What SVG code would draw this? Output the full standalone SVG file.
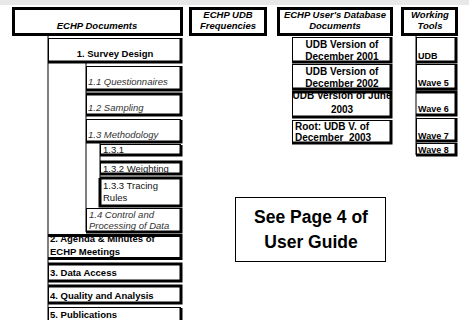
<svg xmlns="http://www.w3.org/2000/svg" width="469" height="320" viewBox="0 0 469 320">
<style>
text{font-family:"Liberation Sans",Arial,sans-serif;fill:#000}
.hd{font-size:9.5px;font-weight:bold;font-style:italic;text-anchor:middle}
.b{font-size:9.5px;font-weight:bold}
.bc{font-size:9.5px;font-weight:bold;text-anchor:middle}
.i{font-size:9.5px;font-style:italic;fill:#333}
.n{font-size:9.5px;fill:#111}
.sm{font-size:9px;font-weight:bold}
.u{font-size:10px;font-weight:bold}
.uc{font-size:10px;font-weight:bold;text-anchor:middle}
.big{font-size:17.5px;font-weight:bold;text-anchor:middle}
.hbox{fill:#fff;stroke:#000;stroke-width:3}
.box{fill:#fff;stroke:#000;stroke-width:1}
.sh{fill:none;stroke:#000;stroke-width:3}
.ln{fill:none;stroke:#000;stroke-width:1}
</style>
<rect x="0" y="0" width="469" height="5" fill="#e8e8e8"/>

<g id="connectors">
<line class="ln" x1="48" y1="35" x2="48" y2="320"/>
<line class="ln" x1="86" y1="62" x2="86" y2="232"/>
<line class="ln" x1="100" y1="142" x2="100" y2="206"/>
<line class="ln" x1="416" y1="35" x2="416" y2="155"/>
</g>

<g id="h-echp-docs"><rect class="hbox" x="13.5" y="8.5" width="168" height="26"/><text class="hd" x="97" y="29">ECHP Documents</text></g>
<g id="h-udb-freq"><rect class="hbox" x="190.5" y="8.5" width="75" height="26"/><text class="hd" x="228" y="18">ECHP UDB</text><text class="hd" x="228" y="29">Frequencies</text></g>
<g id="h-udb-docs"><rect class="hbox" x="278.5" y="8.5" width="113" height="26"/><text class="hd" x="335" y="18">ECHP User's Database</text><text class="hd" x="335" y="29">Documents</text></g>
<g id="h-tools"><rect class="hbox" x="402.5" y="8.5" width="54" height="26"/><text class="hd" x="430" y="18">Working</text><text class="hd" x="430" y="29">Tools</text></g>

<g id="n1"><rect class="box" x="48.5" y="38.5" width="132" height="23"/><path class="sh" d="M181,38V62H48"/><text class="bc" x="115" y="57">1. Survey Design</text></g>
<g id="n11"><rect class="box" x="86.5" y="66.5" width="94" height="23"/><path class="sh" d="M181,66V90H86"/><text class="i" x="88" y="85">1.1  Questionnaires</text></g>
<g id="n12"><rect class="box" x="86.5" y="93.5" width="94" height="21"/><path class="sh" d="M86,94H181V115H86"/><text class="i" x="88" y="111">1.2  Sampling</text></g>
<g id="n13"><rect class="box" x="86.5" y="119.5" width="94" height="22"/><path class="sh" d="M181,120V142H86"/><text class="i" x="88" y="138">1.3  Methodology</text></g>
<g id="n131"><rect class="box" x="100.5" y="144.5" width="80" height="10"/><path class="sh" d="M181,145V155H100"/><text class="n" x="103" y="153">1.3.1</text></g>
<g id="n132"><rect class="box" x="100.5" y="162.5" width="80" height="11"/><path class="sh" d="M100,162H181V174H100"/><text class="n" x="103" y="172">1.3.2  Weighting</text></g>
<g id="n133"><rect class="box" x="100.5" y="178.5" width="80" height="27"/><path class="sh" d="M100,178H181V206H100V178"/><text class="n" x="103" y="189">1.3.3  Tracing</text><text class="n" x="103" y="201">Rules</text></g>
<g id="n14"><rect class="box" x="86.5" y="208.5" width="94" height="23"/><path class="sh" d="M181,208V232H86"/><text class="i" x="89" y="218">1.4  Control and</text><text class="i" x="89" y="229">Processing of Data</text></g>
<g id="n2"><text class="b" x="50" y="241.5">2. Agenda &amp; Minutes of</text><path class="sh" d="M48,235.5H181V258.5H48"/><text class="b" x="50" y="254.5">ECHP Meetings</text></g>
<g id="n3"><rect class="box" x="48.5" y="263.5" width="132" height="17"/><path class="sh" d="M48,264H181V281H48"/><text class="b" x="50" y="276">3. Data Access</text></g>
<g id="n4"><rect class="box" x="48.5" y="285.5" width="132" height="17"/><path class="sh" d="M48,286H181V303H48"/><text class="b" x="50" y="298.5">4. Quality and Analysis</text></g>
<g id="n5"><rect class="box" x="48.5" y="307.5" width="132" height="20"/><path class="sh" d="M181,308V320"/><text class="b" x="50" y="318">5. Publications</text></g>

<g id="u1"><rect class="box" x="292.5" y="37.5" width="98" height="24"/><path class="sh" d="M391,37V62H292"/><text class="uc" x="342" y="47.5">UDB Version of</text><text class="uc" x="342" y="59.5">December 2001</text></g>
<g id="u2"><rect class="box" x="292.5" y="64.5" width="98" height="24"/><path class="sh" d="M391,64V89H292"/><text class="uc" x="342" y="74.5">UDB Version of</text><text class="uc" x="342" y="86.5">December 2002</text></g>
<g id="u3"><text class="uc" x="342" y="99">UDB Version of June</text><path class="sh" d="M292,92H391V117H292"/><line class="ln" x1="292.5" y1="92" x2="292.5" y2="117"/><text class="uc" x="342" y="112.5">2003</text></g>
<g id="u4"><rect class="box" x="292.5" y="120.5" width="98" height="22"/><path class="sh" d="M391,120V143H292"/><text class="u" x="295" y="129.5">Root: UDB V. of</text><text class="u" x="295" y="140.5" xml:space="preserve">December  2003</text></g>

<g id="w1"><rect class="box" x="416.5" y="37.5" width="39" height="24"/><path class="sh" d="M456,37V62H416"/><text class="sm" x="418" y="59">UDB</text></g>
<g id="w2"><rect class="box" x="416.5" y="64.5" width="39" height="24"/><path class="sh" d="M456,64V89H416"/><text class="sm" x="418" y="86">Wave 5</text></g>
<g id="w3"><path class="sh" d="M416,92H456V115H416"/><text class="sm" x="418" y="112">Wave 6</text></g>
<g id="w4"><rect class="box" x="416.5" y="118.5" width="39" height="22"/><path class="sh" d="M456,118V141H416"/><text class="sm" x="418" y="139">Wave 7</text></g>
<g id="w5"><rect class="box" x="416.5" y="143.5" width="39" height="11"/><path class="sh" d="M456,143V155H416"/><text class="sm" x="418" y="153">Wave 8</text></g>

<g id="note"><rect class="box" x="235.5" y="197.5" width="150" height="64" stroke-width="1.5"/><text class="big" x="311" y="223">See Page 4 of</text><text class="big" x="311" y="248">User Guide</text></g>
</svg>
